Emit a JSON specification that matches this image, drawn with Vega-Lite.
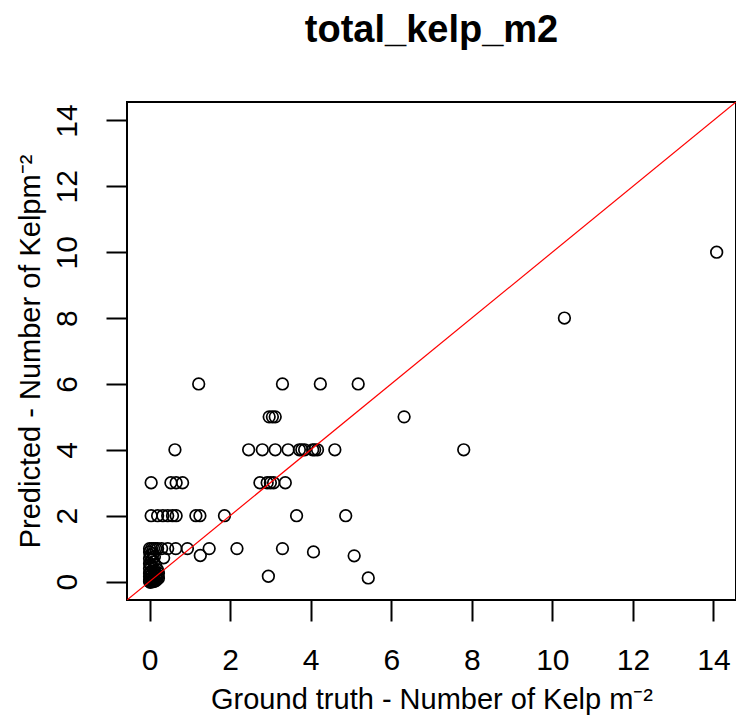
{
  "$schema": "https://vega.github.io/schema/vega-lite/v6.json",
  "autosize": {"type": "none"},
  "width": 609,
  "height": 498,
  "padding": {"left": 127, "top": 102, "right": 0, "bottom": 124},
  "background": "white",
  "config": {
    "font": "Liberation Sans",
    "view": {"stroke": "black", "strokeWidth": 2},
    "axis": {"grid": false, "domain": false, "tickColor": "black", "tickWidth": 2, "tickSize": 21,
      "labelColor": "black", "labelFont": "Liberation Sans", "labelFontSize": 30, "labelPadding": 24,
      "titleColor": "black", "titleFont": "Liberation Sans", "titleFontSize": 29, "titleFontWeight": "normal"}
  },
  "title": {"text": "total_kelp_m2", "font": "Liberation Sans", "fontSize": 38, "fontWeight": "bold", "color": "black",
    "anchor": "middle", "frame": "group", "offset": 52},
  "datasets": {
    "pts": [
      {"truth": 14.08, "pred": 10}, {"truth": 10.3, "pred": 8},
      {"truth": 1.22, "pred": 6}, {"truth": 3.3, "pred": 6}, {"truth": 4.24, "pred": 6}, {"truth": 5.18, "pred": 6},
      {"truth": 2.97, "pred": 5}, {"truth": 3.05, "pred": 5}, {"truth": 3.12, "pred": 5}, {"truth": 6.32, "pred": 5},
      {"truth": 0.63, "pred": 4}, {"truth": 2.46, "pred": 4}, {"truth": 2.8, "pred": 4}, {"truth": 3.12, "pred": 4},
      {"truth": 3.44, "pred": 4}, {"truth": 3.72, "pred": 4}, {"truth": 3.78, "pred": 4}, {"truth": 3.85, "pred": 4},
      {"truth": 4.05, "pred": 4}, {"truth": 4.1, "pred": 4}, {"truth": 4.17, "pred": 4}, {"truth": 4.6, "pred": 4},
      {"truth": 7.8, "pred": 4},
      {"truth": 0.04, "pred": 3}, {"truth": 0.53, "pred": 3}, {"truth": 0.66, "pred": 3}, {"truth": 0.82, "pred": 3},
      {"truth": 2.74, "pred": 3}, {"truth": 2.92, "pred": 3}, {"truth": 3.0, "pred": 3}, {"truth": 3.08, "pred": 3},
      {"truth": 3.37, "pred": 3},
      {"truth": 0.04, "pred": 2}, {"truth": 0.2, "pred": 2}, {"truth": 0.33, "pred": 2}, {"truth": 0.45, "pred": 2},
      {"truth": 0.57, "pred": 2}, {"truth": 0.66, "pred": 2}, {"truth": 1.15, "pred": 2}, {"truth": 1.25, "pred": 2},
      {"truth": 1.86, "pred": 2}, {"truth": 3.65, "pred": 2}, {"truth": 4.87, "pred": 2},
      {"truth": 0.45, "pred": 1}, {"truth": 0.65, "pred": 1}, {"truth": 0.94, "pred": 1}, {"truth": 1.48, "pred": 1},
      {"truth": 2.17, "pred": 1}, {"truth": 3.3, "pred": 1},
      {"truth": 1.26, "pred": 0.79}, {"truth": 4.07, "pred": 0.9}, {"truth": 5.08, "pred": 0.78},
      {"truth": 2.95, "pred": 0.16}, {"truth": 5.43, "pred": 0.11},
      {"truth": 0.0, "pred": 1}, {"truth": 0.05, "pred": 1}, {"truth": 0.1, "pred": 1}, {"truth": 0.15, "pred": 1},
      {"truth": 0.2, "pred": 1}, {"truth": 0.3, "pred": 1},
      {"truth": 0.0, "pred": 0.9}, {"truth": 0.08, "pred": 0.85}, {"truth": 0.02, "pred": 0.8}, {"truth": 0.12, "pred": 0.75},
      {"truth": 0.0, "pred": 0.7}, {"truth": 0.05, "pred": 0.65}, {"truth": 0.35, "pred": 0.72}, {"truth": 0.1, "pred": 0.6},
      {"truth": 0.0, "pred": 0.55}, {"truth": 0.02, "pred": 0.5}, {"truth": 0.15, "pred": 0.5}, {"truth": 0.05, "pred": 0.45},
      {"truth": 0.0, "pred": 0.4}, {"truth": 0.1, "pred": 0.4}, {"truth": 0.2, "pred": 0.35}, {"truth": 0.03, "pred": 0.3},
      {"truth": 0.12, "pred": 0.3}, {"truth": 0.0, "pred": 0.25}, {"truth": 0.22, "pred": 0.25}, {"truth": 0.05, "pred": 0.2},
      {"truth": 0.15, "pred": 0.2}, {"truth": 0.0, "pred": 0.15}, {"truth": 0.1, "pred": 0.12}, {"truth": 0.2, "pred": 0.15},
      {"truth": 0.03, "pred": 0.1}, {"truth": 0.08, "pred": 0.05}, {"truth": 0.18, "pred": 0.08}, {"truth": 0.0, "pred": 0.05},
      {"truth": 0.05, "pred": 0.0}, {"truth": 0.0, "pred": 0.0}, {"truth": 0.1, "pred": 0.0}, {"truth": 0.15, "pred": 0.02},
      {"truth": 0.22, "pred": 0.1}, {"truth": 0.2, "pred": 0.2}, {"truth": 0.02, "pred": -0.02}
    ],
    "ref": [{"truth": -1, "pred": -1}, {"truth": 15, "pred": 15}]
  },
  "layer": [
    {
      "data": {"name": "pts"},
      "mark": {"type": "point", "shape": "circle", "filled": false, "stroke": "black", "strokeWidth": 1.7, "size": 135, "opacity": 1},
      "encoding": {
        "x": {"field": "truth", "type": "quantitative",
          "scale": {"domain": [-0.56, 14.56], "nice": false, "zero": false},
          "axis": {"values": [0, 2, 4, 6, 8, 10, 12, 14], "title": "Ground truth - Number of Kelp m⁻²", "titlePadding": 10}},
        "y": {"field": "pred", "type": "quantitative",
          "scale": {"domain": [-0.56, 14.56], "nice": false, "zero": false},
          "axis": {"values": [0, 2, 4, 6, 8, 10, 12, 14], "labelAngle": -90, "labelAlign": "center", "labelBaseline": "bottom",
            "title": "Predicted - Number of Kelpm⁻²", "titlePadding": 7}}
      }
    },
    {
      "data": {"name": "ref"},
      "mark": {"type": "line", "color": "red", "strokeWidth": 1.2, "clip": true},
      "encoding": {
        "x": {"field": "truth", "type": "quantitative"},
        "y": {"field": "pred", "type": "quantitative"}
      }
    }
  ]
}
